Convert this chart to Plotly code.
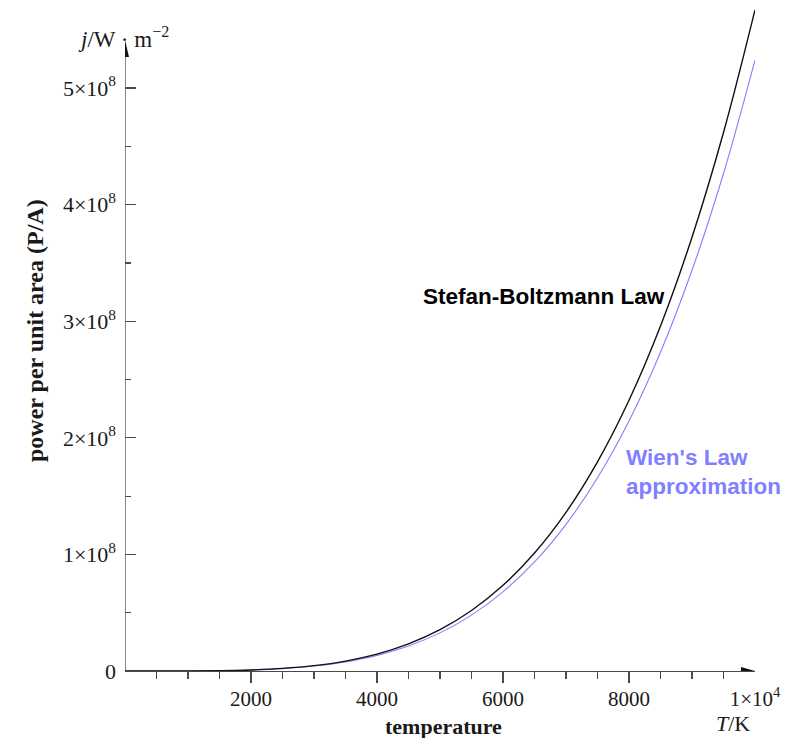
import plotly.graph_objects as go

# ---- data ----
temperature_K = [0, 500, 1000, 1500, 2000, 2500, 3000, 3500, 4000, 4500, 5000,
                 5500, 6000, 6500, 7000, 7500, 8000, 8500, 9000, 9500, 10000]
stefan_boltzmann = [0, 3.5e3, 5.67e4, 2.87e5, 9.07e5, 2.21e6, 4.59e6, 8.51e6, 1.45e7,
                    2.325e7, 3.54e7, 5.19e7, 7.35e7, 1.012e8, 1.361e8, 1.794e8,
                    2.322e8, 2.959e8, 3.72e8, 4.618e8, 5.67e8]
wien_approx = [0, 3.3e3, 5.24e4, 2.65e5, 8.38e5, 2.04e6, 4.24e6, 7.86e6, 1.34e7,
               2.148e7, 3.27e7, 4.795e7, 6.79e7, 9.35e7, 1.2575e8, 1.6575e8,
               2.145e8, 2.734e8, 3.437e8, 4.267e8, 5.239e8]

x_tick_vals = [2000, 4000, 6000, 8000, 10000]
x_tick_text = ["2000", "4000", "6000", "8000", "1×10<sup>4</sup>"]
x_major_tick_vals = [2000, 4000, 6000, 8000]
x_minor_tick_vals = [500, 1000, 1500, 2500, 3000, 3500, 4500, 5000, 5500,
                     6500, 7000, 7500, 8500, 9000, 9500]
y_tick_vals = [0, 1e8, 2e8, 3e8, 4e8, 5e8]
y_tick_text = ["0", "1×10<sup>8</sup>", "2×10<sup>8</sup>", "3×10<sup>8</sup>",
               "4×10<sup>8</sup>", "5×10<sup>8</sup>"]
y_minor_tick_vals = [0.5e8, 1.5e8, 2.5e8, 3.5e8, 4.5e8]

# ---- layout geometry (pixels) ----
W, H = 787, 738
ML, MR, MT, MB = 125, 32, 5, 67
PW, PH = W - ML - MR, H - MT - MB
Y_TOP = 5.712e8
Y_ARROW_TIP = 5.412e8
Y_ARROW_BASE = 5.266e8


def px(xp):
    return (xp - ML) / PW


def py(yp):
    return (H - MB - yp) / PH


AXC = "#4a4a4a"
TXT = "#1a1a1a"
SERIF = "Liberation Serif"
SANS = "Liberation Sans"

fig = go.Figure()
fig.add_trace(go.Scatter(x=temperature_K, y=wien_approx, mode="lines",
                         line=dict(color="#8080ff", width=1.1, shape="spline"),
                         showlegend=False, hoverinfo="skip"))
fig.add_trace(go.Scatter(x=temperature_K, y=stefan_boltzmann, mode="lines",
                         line=dict(color="#111111", width=1.4, shape="spline"),
                         showlegend=False, hoverinfo="skip"))
# helper trace so the tick-mark overlay axis exists
fig.add_trace(go.Scatter(x=[0], y=[0], xaxis="x2", mode="markers",
                         marker=dict(opacity=0), showlegend=False, hoverinfo="skip"))

fig.update_layout(
    width=W, height=H,
    margin=dict(l=ML, r=MR, t=MT, b=MB, autoexpand=False),
    paper_bgcolor="white", plot_bgcolor="white",
    xaxis=dict(range=[0, 10000], showgrid=False, zeroline=False,
               showline=True, linecolor=AXC, linewidth=1.3,
               tickmode="array", tickvals=x_tick_vals, ticktext=x_tick_text,
               ticks="", ticklabelstandoff=8,
               tickfont=dict(family=SERIF, size=21, color=TXT)),
    xaxis2=dict(range=[0, 10000], overlaying="x", anchor="y", side="bottom",
                showgrid=False, zeroline=False, showline=False,
                tickmode="array", tickvals=x_major_tick_vals,
                ticks="outside", ticklen=11, tickwidth=1.3, tickcolor=AXC,
                showticklabels=False,
                minor=dict(tickmode="array", tickvals=x_minor_tick_vals,
                           ticks="outside", ticklen=7, tickwidth=1.2,
                           tickcolor=AXC, showgrid=False)),
    yaxis=dict(range=[0, Y_TOP], showgrid=False, zeroline=False, showline=False,
               tickmode="array", tickvals=y_tick_vals, ticktext=y_tick_text,
               ticks="inside", ticklen=11, tickwidth=1.3, tickcolor=AXC,
               ticklabelstandoff=8,
               tickfont=dict(family=SERIF, size=22, color=TXT),
               minor=dict(tickmode="array", tickvals=y_minor_tick_vals,
                          ticks="inside", ticklen=6, tickwidth=1.2,
                          tickcolor=AXC, showgrid=False)),
)

# y axis line + arrowheads
fig.add_shape(type="line", xref="x", yref="y", x0=0, x1=0, y0=0, y1=Y_ARROW_BASE,
              line=dict(color=AXC, width=1.3), layer="above")
fig.add_shape(type="path", xref="x", yref="y", xsizemode="pixel", ysizemode="pixel",
              xanchor=0, yanchor=Y_ARROW_TIP, path="M0,0 L-4,-17 L4,-17 Z",
              fillcolor="#111111", line=dict(width=0), layer="above")
fig.add_shape(type="path", xref="x", yref="y", xsizemode="pixel", ysizemode="pixel",
              xanchor=10000, yanchor=0, path="M0,0 L-14,4 L-14,-4 Z",
              fillcolor="#111111", line=dict(width=0), layer="above")

annos = [
    dict(text="<i>j</i>/W · m<sup>−2</sup>", x=px(123), y=py(37),
         font=dict(family=SERIF, size=23, color=TXT)),
    dict(text="<i>T</i>/K", x=px(733), y=py(723),
         font=dict(family=SERIF, size=22, color=TXT)),
    dict(text="<b>temperature</b>", x=px(443), y=py(726),
         font=dict(family=SERIF, size=22, color=TXT)),
    dict(text="<b>power per unit area (P/A)</b>", x=px(35), y=py(331), textangle=-90,
         font=dict(family=SERIF, size=24, color=TXT)),
    dict(text="<b>Stefan-Boltzmann Law</b>", x=px(544), y=py(296),
         font=dict(family=SANS, size=22.5, color="#000000")),
]
for a in annos:
    fig.add_annotation(xref="paper", yref="paper", showarrow=False,
                       xanchor="center", yanchor="middle", **a)
fig.add_annotation(xref="paper", yref="paper", showarrow=False,
                   text="<b>Wien's Law<br>approximation</b>", align="left",
                   x=px(624), y=py(472), xanchor="left", yanchor="middle",
                   font=dict(family=SANS, size=22.5, color="#7f7fff"))

fig.write_html("out.html",
               config={"displayModeBar": False, "staticPlot": True},
               post_script="document.body.style.margin='0';"
                           "document.body.style.overflow='hidden';")
